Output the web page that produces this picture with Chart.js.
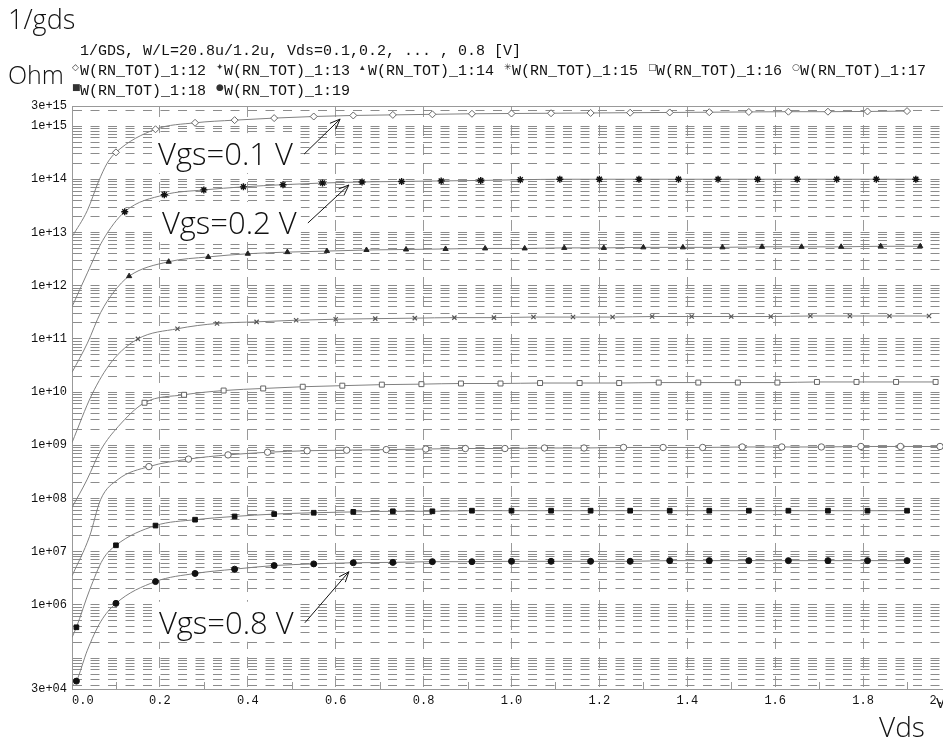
<!DOCTYPE html>
<html>
<head>
<meta charset="utf-8">
<title>1/gds</title>
<script src="https://cdn.jsdelivr.net/npm/chart.js@4.4.1/dist/chart.umd.min.js"></script>
<style>
  html, body { margin: 0; padding: 0; background: #fff; overflow: hidden; }
  #wrap { position: relative; width: 943px; height: 744px; overflow: hidden; }
  #chart { position: absolute; left: 0; top: 0; }
  #overlay { position: absolute; left: 0; top: 0; pointer-events: none; }
  .big { font-family: 'Open Sans', sans-serif; font-weight: 300; fill: #111; }
  .mono { font-family: 'Liberation Mono', monospace; font-size: 15px; fill: #111; }
  .sym { font-family: 'DejaVu Sans', sans-serif; font-size: 9px; fill: #333; }
</style>
</head>
<body>
<div id="wrap">
  <canvas id="chart" width="1000" height="744"></canvas>
  <svg id="overlay" width="943" height="744" xmlns="http://www.w3.org/2000/svg">
    <text class="big" x="8" y="29" font-size="27">1/gds</text>
    <text class="big" x="8" y="84" font-size="25">Ohm</text>
    <text class="mono" x="80" y="55">1/GDS, W/L=20.8u/1.2u, Vds=0.1,0.2, ... , 0.8 [V]</text>
    <g id="legend"></g>
    <text class="big" x="879" y="737" font-size="28">Vds</text>
    <text class="mono" x="936" y="708" font-size="10">V</text>
  </svg>
</div>
<script>
// axis range (rounded to 3e+04 .. 3e+15 in the labels)
const rdsMin = 2.63e4;
const rdsMax = 2.38e15;
const yLabelValues = [1e6, 1e7, 1e8, 1e9, 1e10, 1e11, 1e12, 1e13, 1e14, 1e15];
const yLabelText = ['1e+06', '1e+07', '1e+08', '1e+09', '1e+10', '1e+11', '1e+12', '1e+13', '1e+14', '1e+15'];
const yEndLabels = ['3e+04', '3e+15'];
const xTickLabels = ['0.0', '0.2', '0.4', '0.6', '0.8', '1.0', '1.2', '1.4', '1.6', '1.8', '2.0'];

const legendNames = ['W(RN_TOT)_1:12', 'W(RN_TOT)_1:13', 'W(RN_TOT)_1:14', 'W(RN_TOT)_1:15',
                     'W(RN_TOT)_1:16', 'W(RN_TOT)_1:17', 'W(RN_TOT)_1:18', 'W(RN_TOT)_1:19'];
const legendSymbols = ['\u25C7', '\u2726', '\u25B4', '\u2733', '\u25A1', '\u25CB', '\u25A0', '\u25CF'];

// Vgs = 0.1 V
const vds12 = [0, 0.035, 0.06, 0.08, 0.10, 0.19, 0.28, 0.37, 0.46, 0.55, 0.64, 0.73, 0.82, 0.91, 1.00,
               1.09, 1.18, 1.27, 1.36, 1.45, 1.54, 1.63, 1.72, 1.81, 1.90];
const rds12 = [8.3e12, 2.6e13, 8.9e13, 2.0e14, 3.2e14, 8.7e14, 1.15e15, 1.29e15, 1.41e15, 1.51e15, 1.58e15,
               1.62e15, 1.66e15, 1.70e15, 1.72e15, 1.74e15, 1.76e15, 1.78e15, 1.80e15, 1.82e15, 1.84e15,
               1.86e15, 1.86e15, 1.88e15, 1.91e15];
const bare12 = [0, 0.035, 0.06, 0.08];

// Vgs = 0.2 V
const vds13 = [0, 0.035, 0.07, 0.12, 0.21, 0.30, 0.39, 0.48, 0.57, 0.66, 0.75, 0.84, 0.93, 1.02,
               1.11, 1.20, 1.29, 1.38, 1.47, 1.56, 1.65, 1.74, 1.83, 1.92];
const rds13 = [4.0e11, 1.74e12, 7.1e12, 2.45e13, 5.1e13, 6.3e13, 7.2e13, 7.9e13, 8.5e13, 8.9e13, 9.1e13,
               9.3e13, 9.5e13, 9.8e13, 1.0e14, 1.0e14, 1.0e14, 1.0e14, 1.0e14, 1.0e14, 1.0e14, 1.0e14,
               1.0e14, 1.0e14];
const bare13 = [0, 0.035, 0.07];

// Vgs = 0.3 V
const vds14 = [0, 0.035, 0.065, 0.095, 0.13, 0.22, 0.31, 0.40, 0.49, 0.58, 0.67, 0.76, 0.85, 0.94,
               1.03, 1.12, 1.21, 1.30, 1.39, 1.48, 1.57, 1.66, 1.75, 1.84, 1.93];
const rds14 = [2.34e10, 8.3e10, 3.1e11, 7.6e11, 1.51e12, 2.82e12, 3.47e12, 3.98e12, 4.27e12, 4.47e12,
               4.68e12, 4.79e12, 4.90e12, 5.01e12, 5.01e12, 5.13e12, 5.13e12, 5.25e12, 5.25e12, 5.25e12,
               5.37e12, 5.37e12, 5.37e12, 5.50e12, 5.50e12];
const bare14 = [0, 0.035, 0.065, 0.095];

// Vgs = 0.4 V
const vds15 = [0, 0.045, 0.09, 0.15, 0.24, 0.33, 0.42, 0.51, 0.60, 0.69, 0.78, 0.87, 0.96, 1.05,
               1.14, 1.23, 1.32, 1.41, 1.50, 1.59, 1.68, 1.77, 1.86, 1.95];
const rds15 = [1.12e9, 8.9e9, 3.7e10, 1.0e11, 1.55e11, 1.95e11, 2.09e11, 2.24e11, 2.34e11, 2.40e11,
               2.45e11, 2.51e11, 2.51e11, 2.57e11, 2.57e11, 2.57e11, 2.63e11, 2.63e11, 2.63e11, 2.63e11,
               2.69e11, 2.69e11, 2.69e11, 2.69e11];
const bare15 = [0, 0.045, 0.09];

// Vgs = 0.5 V
const vds16 = [0, 0.034, 0.066, 0.105, 0.165, 0.255, 0.345, 0.435, 0.525, 0.615, 0.705, 0.795, 0.885,
               0.975, 1.065, 1.155, 1.245, 1.335, 1.425, 1.515, 1.605, 1.695, 1.785, 1.875, 1.965];
const rds16 = [6.8e7, 2.24e8, 8.3e8, 2.24e9, 6.3e9, 8.9e9, 1.07e10, 1.17e10, 1.26e10, 1.32e10, 1.38e10,
               1.41e10, 1.45e10, 1.45e10, 1.48e10, 1.48e10, 1.48e10, 1.51e10, 1.51e10, 1.51e10, 1.51e10,
               1.55e10, 1.55e10, 1.55e10, 1.55e10];
const bare16 = [0, 0.034, 0.066, 0.105];

// Vgs = 0.6 V
const vds17 = [0, 0.04, 0.065, 0.105, 0.175, 0.265, 0.355, 0.445, 0.535, 0.625, 0.715, 0.805, 0.895,
               0.985, 1.075, 1.165, 1.255, 1.345, 1.435, 1.525, 1.615, 1.705, 1.795, 1.885, 1.975];
const rds17 = [3.5e6, 1.95e7, 9.5e7, 2.29e8, 3.98e8, 5.5e8, 6.6e8, 7.4e8, 7.9e8, 8.1e8, 8.3e8, 8.5e8,
               8.7e8, 8.7e8, 8.9e8, 8.9e8, 9.1e8, 9.1e8, 9.1e8, 9.3e8, 9.3e8, 9.3e8, 9.5e8, 9.5e8, 9.5e8];
const bare17 = [0, 0.04, 0.065, 0.105];

// Vgs = 0.7 V
const vds18 = [0, 0.01, 0.04, 0.07, 0.10, 0.19, 0.28, 0.37, 0.46, 0.55, 0.64, 0.73, 0.82, 0.91, 1.00,
               1.09, 1.18, 1.27, 1.36, 1.45, 1.54, 1.63, 1.72, 1.81, 1.90];
const rds18 = [2.45e5, 3.8e5, 1.9e6, 7.1e6, 1.32e7, 3.1e7, 4.0e7, 4.6e7, 5.1e7, 5.4e7, 5.6e7, 5.75e7,
               5.75e7, 5.9e7, 5.9e7, 5.9e7, 5.9e7, 5.9e7, 5.9e7, 5.9e7, 5.9e7, 5.9e7, 5.9e7, 5.9e7, 5.9e7];
const bare18 = [0, 0.04, 0.07];

// Vgs = 0.8 V
const vds19 = [0, 0.01, 0.035, 0.065, 0.10, 0.19, 0.28, 0.37, 0.46, 0.55, 0.64, 0.73, 0.82, 0.91, 1.00,
               1.09, 1.18, 1.27, 1.36, 1.45, 1.54, 1.63, 1.72, 1.81, 1.90];
const rds19 = [2.95e4, 3.7e4, 1.41e5, 4.8e5, 1.07e6, 2.75e6, 3.9e6, 4.7e6, 5.5e6, 5.9e6, 6.2e6, 6.3e6,
               6.5e6, 6.5e6, 6.6e6, 6.6e6, 6.6e6, 6.6e6, 6.8e6, 6.8e6, 6.8e6, 6.8e6, 6.8e6, 6.8e6, 6.8e6];
const bare19 = [0, 0.035, 0.065];

// callouts, anchored at a point of the plot
const callouts = [
    { text: 'Vgs=0.1 V', vds: 0.61, rds: 1.35e15, dx: -36, dy: 35 },
    { text: 'Vgs=0.2 V', vds: 0.63, rds: 7.8e13, dx: -41, dy: 38 },
    { text: 'Vgs=0.8 V', vds: 0.63, rds: 4.2e6, dx: -44, dy: 51 }
];

const LINE = '#808080';
const MONO = "'Liberation Mono', monospace";

function makeSeries(vds, rds, bare, style) {
    return {
        data: vds.map((x, i) => ({ x: x, y: rds[i] })),
        borderColor: LINE,
        borderWidth: 1,
        cubicInterpolationMode: 'monotone',
        pointStyle: style.shape,
        pointRadius: ctx => (ctx.raw && bare.includes(ctx.raw.x)) ? 0 : style.r,
        pointHoverRadius: 0,
        pointBackgroundColor: style.fill,
        pointBorderColor: style.stroke,
        pointBorderWidth: style.w
    };
}

const datasets = [
    makeSeries(vds12, rds12, bare12, { shape: 'rectRot', r: 3.5, fill: '#fff', stroke: '#666', w: 1 }),
    makeSeries(vds13, rds13, bare13, { shape: 'star', r: 3.5, fill: '#111', stroke: '#111', w: 1.4 }),
    makeSeries(vds14, rds14, bare14, { shape: 'triangle', r: 3, fill: '#222', stroke: '#222', w: 1 }),
    makeSeries(vds15, rds15, bare15, { shape: 'crossRot', r: 3, fill: '#555', stroke: '#555', w: 1.2 }),
    makeSeries(vds16, rds16, bare16, { shape: 'rect', r: 3.5, fill: '#fff', stroke: '#666', w: 1 }),
    makeSeries(vds17, rds17, bare17, { shape: 'circle', r: 3.2, fill: '#fff', stroke: '#666', w: 1 }),
    makeSeries(vds18, rds18, bare18, { shape: 'rect', r: 3.3, fill: '#111', stroke: '#111', w: 1 }),
    makeSeries(vds19, rds19, bare19, { shape: 'circle', r: 3, fill: '#111', stroke: '#111', w: 1 })
];

function isDecade(v) {
    const l = Math.log10(v);
    return Math.abs(l - Math.round(l)) < 1e-9;
}

// solid frame on top and short minor ticks at the odd 0.1 V steps
const framePlugin = {
    id: 'frame',
    beforeDatasetsDraw(chart) {
        const { ctx, chartArea: a, scales } = chart;
        ctx.save();
        ctx.strokeStyle = '#999';
        ctx.lineWidth = 1;
        ctx.beginPath();
        ctx.moveTo(a.left, a.top + 0.5);
        ctx.lineTo(a.right, a.top + 0.5);
        scales.x.ticks.forEach(t => {
            if (Math.round(t.value * 10) % 2 === 1) {
                const px = Math.round(scales.x.getPixelForValue(t.value)) + 0.5;
                ctx.moveTo(px, a.bottom);
                ctx.lineTo(px, a.bottom - 7);
            }
        });
        ctx.stroke();
        ctx.restore();
    }
};

const chart = new Chart(document.getElementById('chart'), {
    type: 'line',
    data: { datasets: datasets },
    plugins: [framePlugin],
    options: {
        responsive: false,
        animation: false,
        devicePixelRatio: 1,
        layout: { padding: { top: 106, right: 49, bottom: 0, left: 0 } },
        plugins: { legend: { display: false }, tooltip: { enabled: false }, title: { display: false } },
        scales: {
            x: {
                type: 'linear',
                min: 0,
                max: 2,
                afterFit: s => { s.height = 55; },
                ticks: {
                    stepSize: 0.1,
                    autoSkip: false,
                    maxRotation: 0,
                    align: 'inner',
                    padding: 5,
                    color: '#111',
                    font: { family: MONO, size: 12 },
                    callback: v => {
                        const i = Math.round(v * 10);
                        return i % 2 === 0 ? xTickLabels[i / 2] : '';
                    }
                },
                grid: {
                    drawTicks: false,
                    lineWidth: 1,
                    color: ctx => (ctx.tick && Math.round(ctx.tick.value * 10) % 2 === 0) ? '#9a9a9a' : 'rgba(0,0,0,0)'
                },
                border: { display: true, color: '#999', width: 1, dash: [11, 8] }
            },
            y: {
                type: 'logarithmic',
                min: rdsMin,
                max: rdsMax,
                afterFit: s => { s.width = 72; },
                afterBuildTicks: s => {
                    const ticks = [{ value: rdsMin }];
                    for (let e = 4; e <= 15; e++) {
                        for (let m = 1; m <= 9; m++) {
                            const v = m * Math.pow(10, e);
                            if (v > rdsMin && v < rdsMax) ticks.push({ value: v });
                        }
                    }
                    ticks.push({ value: rdsMax });
                    s.ticks = ticks;
                },
                ticks: {
                    autoSkip: false,
                    padding: 5,
                    color: '#111',
                    font: { family: MONO, size: 12 },
                    callback: (v, i, ticks) => {
                        if (i === 0) return yEndLabels[0];
                        if (i === ticks.length - 1) return yEndLabels[1];
                        if (!isDecade(v)) return '';
                        const k = yLabelValues.findIndex(d => Math.abs(Math.log10(d) - Math.log10(v)) < 1e-9);
                        return k >= 0 ? yLabelText[k] : '';
                    }
                },
                grid: { drawTicks: false, lineWidth: 1, color: '#8c8c8c' },
                border: { display: true, color: '#999', width: 1, dash: [9, 8.5] }
            }
        }
    }
});

// legend text
const NS = 'http://www.w3.org/2000/svg';
const svg = document.getElementById('overlay');
const legendGroup = document.getElementById('legend');

function svgEl(tag, attrs, text) {
    const el = document.createElementNS(NS, tag);
    Object.keys(attrs).forEach(k => el.setAttribute(k, attrs[k]));
    if (text !== undefined) el.textContent = text;
    return el;
}

legendNames.forEach((name, i) => {
    const row = i < 6 ? 0 : 1;
    const col = i < 6 ? i : i - 6;
    const x = 80 + 144 * col;
    const y = row === 0 ? 75 : 95;
    legendGroup.appendChild(svgEl('text', { class: 'sym', x: x - 8, y: y - 5 }, legendSymbols[i]));
    legendGroup.appendChild(svgEl('text', { class: 'mono', x: x, y: y }, name));
});

// callouts with arrows
const xs = chart.scales.x;
const ys = chart.scales.y;
callouts.forEach(c => {
    const tipX = xs.getPixelForValue(c.vds);
    const tipY = ys.getPixelForValue(c.rds);
    const tailX = tipX + c.dx;
    const tailY = tipY + c.dy;
    const label = svgEl('text', { class: 'big', x: tailX - 146, y: tailY + 11, 'font-size': 31 }, c.text);
    const box = svgEl('rect', { fill: '#fff' });
    svg.appendChild(box);
    svg.appendChild(label);
    const w = label.getComputedTextLength();
    box.setAttribute('x', tailX - 150);
    box.setAttribute('y', tailY - 21);
    box.setAttribute('width', w + 8);
    box.setAttribute('height', 40);
    const ang = Math.atan2(tipY - tailY, tipX - tailX);
    const head = 11, spread = 0.38;
    const d = 'M' + tailX + ' ' + tailY + ' L' + tipX + ' ' + tipY +
        ' M' + (tipX - head * Math.cos(ang - spread)) + ' ' + (tipY - head * Math.sin(ang - spread)) +
        ' L' + tipX + ' ' + tipY +
        ' L' + (tipX - head * Math.cos(ang + spread)) + ' ' + (tipY - head * Math.sin(ang + spread));
    svg.appendChild(svgEl('path', { d: d, fill: 'none', stroke: '#111', 'stroke-width': 1 }));
});
</script>
</body>
</html>
